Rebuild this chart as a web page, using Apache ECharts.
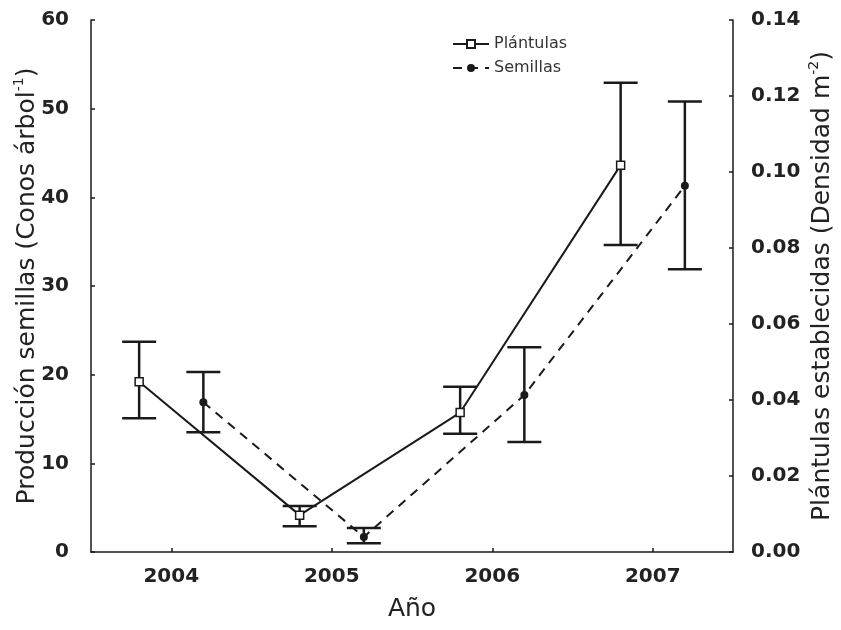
<!DOCTYPE html>
<html>
<head>
<meta charset="utf-8">
<script src="https://cdn.jsdelivr.net/npm/echarts@6/dist/echarts.min.js"></script>
<style>
html,body{margin:0;padding:0;background:#fff;}
#chart{width:841px;height:630px;}
</style>
</head>
<body>
<div id="chart"></div>
<script>
// ---- data ----
const years = [2004, 2005, 2006, 2007];
const plantulasMean = [0.0448, 0.0097, 0.0367, 0.1018];
const plantulasLow  = [0.0352, 0.0068, 0.0311, 0.0808];
const plantulasHigh = [0.0553, 0.0121, 0.0435, 0.1235];
const semillasMean = [16.9, 1.7, 17.7, 41.3];
const semillasLow  = [13.5, 1.0, 12.4, 31.9];
const semillasHigh = [20.3, 2.7, 23.1, 50.8];
const seriesNames = ['Plántulas', 'Semillas'];
const xTitle = 'Año';

// ---- build ----
const DODGE = 0.2;
const INK = '#1a1a1a';
const FONT = 'DejaVu Sans';

const plantulasPts = years.map((y, i) => [y - DODGE, plantulasMean[i]]);
const semillasPts = years.map((y, i) => [y + DODGE, semillasMean[i]]);
const plantulasErr = years.map((y, i) => [y - DODGE, plantulasLow[i], plantulasHigh[i]]);
const semillasErr = years.map((y, i) => [y + DODGE, semillasLow[i], semillasHigh[i]]);

function errRender(params, api) {
  const x = api.value(0), lo = api.value(1), hi = api.value(2);
  const a = api.coord([x, hi]);
  const b = api.coord([x, lo]);
  const hw = 17;
  const st = { stroke: INK, lineWidth: 2.5 };
  return {
    type: 'group',
    children: [
      { type: 'line', shape: { x1: a[0], y1: a[1], x2: b[0], y2: b[1] }, style: st },
      { type: 'line', shape: { x1: a[0] - hw, y1: a[1], x2: a[0] + hw, y2: a[1] }, style: st },
      { type: 'line', shape: { x1: b[0] - hw, y1: b[1], x2: b[0] + hw, y2: b[1] }, style: st }
    ]
  };
}

const labelStyle = { fontFamily: FONT, fontSize: 20, fontWeight: 'bold', color: '#222' };
const titleRich = {
  t: { fontFamily: FONT, fontSize: 25, color: '#222', lineHeight: 30 },
  sup: { fontFamily: FONT, fontSize: 14, color: '#222', verticalAlign: 'top', lineHeight: 14 }
};

const chart = echarts.init(document.getElementById('chart'), null, { renderer: 'canvas' });
chart.setOption({
  animation: false,
  backgroundColor: '#fff',
  grid: { left: 91, right: 108, top: 20, bottom: 78, containLabel: false, outerBoundsMode: 'none' },
  legend: {
    data: seriesNames,
    orient: 'vertical',
    left: 447,
    top: 31,
    itemWidth: 36,
    itemHeight: 10,
    itemGap: 8,
    textStyle: { fontFamily: FONT, fontSize: 16, color: '#333' }
  },
  xAxis: {
    type: 'value',
    min: 2003.5,
    max: 2007.5,
    name: xTitle,
    nameLocation: 'middle',
    nameGap: 45,
    nameMoveOverlap: false,
    nameTextStyle: { fontFamily: FONT, fontSize: 25, color: '#222' },
    axisLine: { lineStyle: { color: INK, width: 1.5 } },
    axisTick: { inside: true, length: 4, customValues: years, lineStyle: { color: INK, width: 1.5 } },
    axisLabel: Object.assign({ customValues: years, margin: 15, formatter: v => String(v) }, labelStyle),
    splitLine: { show: false }
  },
  yAxis: [
    {
      type: 'value',
      min: 0, max: 60, interval: 10,
      position: 'left',
      name: '{t|Producción semillas (Conos árbol}{sup|-1}{t|)}',
      nameLocation: 'middle',
      nameRotate: 90,
      nameGap: 49,
      nameMoveOverlap: false,
      nameTextStyle: { rich: titleRich },
      axisLine: { show: true, lineStyle: { color: INK, width: 1.5 } },
      axisTick: { show: true, inside: true, length: 4, lineStyle: { color: INK, width: 1.5 } },
      axisLabel: Object.assign({ margin: 22 }, labelStyle),
      splitLine: { show: false }
    },
    {
      type: 'value',
      min: 0, max: 0.14, interval: 0.02,
      position: 'right',
      name: '{t|Plántulas establecidas (Densidad m}{sup|-2}{t|)}',
      nameLocation: 'middle',
      nameRotate: 90,
      nameGap: 74,
      nameMoveOverlap: false,
      nameTextStyle: { rich: titleRich },
      axisLine: { show: true, lineStyle: { color: INK, width: 1.5 } },
      axisTick: { show: true, inside: true, length: 4, lineStyle: { color: INK, width: 1.5 } },
      axisLabel: Object.assign({ margin: 18, formatter: v => v.toFixed(2) }, labelStyle),
      splitLine: { show: false }
    }
  ],
  series: [
    {
      name: 'Plántulas EE', type: 'custom', yAxisIndex: 1, z: 1,
      renderItem: errRender, encode: { x: 0, y: [1, 2] }, data: plantulasErr, silent: true
    },
    {
      name: 'Semillas EE', type: 'custom', yAxisIndex: 0, z: 1,
      renderItem: errRender, encode: { x: 0, y: [1, 2] }, data: semillasErr, silent: true
    },
    {
      name: seriesNames[0], type: 'line', yAxisIndex: 1, z: 3,
      data: plantulasPts,
      symbol: 'rect', symbolSize: 8, showAllSymbol: true,
      lineStyle: { color: INK, width: 2, type: 'solid' },
      itemStyle: { color: '#fff', borderColor: INK, borderWidth: 1.5 }
    },
    {
      name: seriesNames[1], type: 'line', yAxisIndex: 0, z: 3,
      data: semillasPts,
      symbol: 'circle', symbolSize: 8, showAllSymbol: true,
      lineStyle: { color: INK, width: 2, type: [9, 7] },
      itemStyle: { color: INK, borderColor: INK, borderWidth: 0 }
    }
  ]
});
</script>
</body>
</html>
